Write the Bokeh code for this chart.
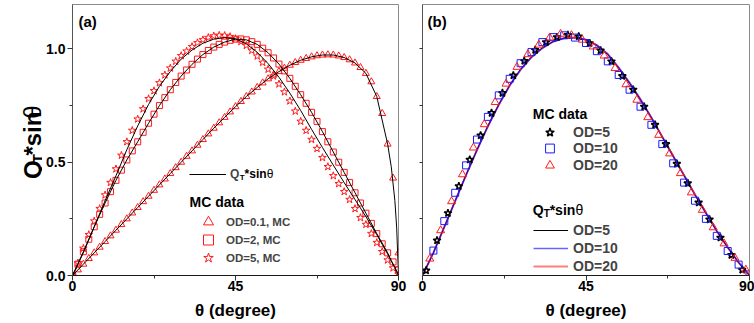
import math
import numpy as np
from bokeh.plotting import figure
from bokeh.layouts import row
from bokeh.models import FixedTicker, Label, Legend, LegendItem, Range1d, PrintfTickFormatter
from bokeh.embed import file_html
from bokeh.resources import INLINE

FONT = "Liberation Sans"

# ---------------- panel (a) data ----------------
theta_a = list(np.linspace(0, 90, 61))  # MC sampling angles (1.5 deg bins)
od01_mc = [0.0, 0.025, 0.05, 0.075, 0.10, 0.125, 0.15, 0.175, 0.20, 0.225, 0.25, 0.276,
           0.30, 0.326, 0.35, 0.376, 0.40, 0.426, 0.45, 0.476, 0.50, 0.526, 0.55, 0.575,
           0.60, 0.625, 0.65, 0.674, 0.698, 0.722, 0.745, 0.768, 0.79, 0.81, 0.83, 0.85,
           0.868, 0.885, 0.90, 0.915, 0.928, 0.94, 0.95, 0.958, 0.965, 0.97, 0.973, 0.974,
           0.973, 0.969, 0.962, 0.952, 0.938, 0.918, 0.892, 0.855, 0.79, 0.715, 0.58, 0.43, 0.10]
od2_mc = [0.0, 0.05, 0.105, 0.16, 0.215, 0.27, 0.32, 0.37, 0.42, 0.465, 0.51, 0.55,
          0.59, 0.632, 0.672, 0.712, 0.75, 0.785, 0.82, 0.852, 0.88, 0.907, 0.932, 0.955,
          0.975, 0.993, 1.008, 1.02, 1.03, 1.038, 1.043, 1.044, 1.04, 1.032, 1.02, 1.003,
          0.983, 0.96, 0.933, 0.903, 0.87, 0.835, 0.798, 0.76, 0.72, 0.68, 0.635, 0.59,
          0.545, 0.50, 0.455, 0.41, 0.365, 0.32, 0.275, 0.23, 0.185, 0.14, 0.10, 0.06, 0.025]
od5_mc = [0.0, 0.055, 0.12, 0.18, 0.24, 0.295, 0.355, 0.41, 0.47, 0.53, 0.59, 0.64,
          0.69, 0.735, 0.78, 0.815, 0.85, 0.885, 0.915, 0.945, 0.97, 0.99, 1.01, 1.027,
          1.04, 1.05, 1.057, 1.06, 1.059, 1.054, 1.045, 1.032, 1.015, 0.993, 0.968, 0.94,
          0.91, 0.88, 0.845, 0.81, 0.77, 0.725, 0.68, 0.64, 0.60, 0.56, 0.52, 0.48,
          0.44, 0.405, 0.37, 0.335, 0.295, 0.255, 0.225, 0.185, 0.145, 0.105, 0.068, 0.033, 0.005]

theta_line_a = [0, 3, 6, 9, 12, 15, 18, 21, 24, 27, 30, 33, 36, 39, 42, 45, 48, 51, 54, 57,
                60, 63, 66, 69, 72, 75, 78, 81, 84, 87, 88, 89, 89.5, 90]
od01_line = [0, 0.05, 0.10, 0.15, 0.20, 0.25, 0.30, 0.35, 0.40, 0.45, 0.50, 0.55, 0.60, 0.65,
             0.698, 0.745, 0.79, 0.83, 0.868, 0.90, 0.928, 0.95, 0.965, 0.973, 0.973, 0.962,
             0.938, 0.892, 0.79, 0.58, 0.48, 0.33, 0.21, 0.0]
od2_line = [0, 0.105, 0.215, 0.32, 0.42, 0.51, 0.59, 0.672, 0.75, 0.82, 0.88, 0.932, 0.975,
            1.008, 1.03, 1.043, 1.04, 1.02, 0.983, 0.933, 0.87, 0.798, 0.72, 0.635, 0.545,
            0.455, 0.365, 0.275, 0.185, 0.10, 0.065, 0.035, 0.018, 0.0]
od5_line = [0, 0.10, 0.215, 0.33, 0.44, 0.555, 0.66, 0.755, 0.835, 0.90, 0.955, 0.995, 1.025,
            1.043, 1.05, 1.045, 1.022, 0.985, 0.935, 0.875, 0.805, 0.728, 0.645, 0.565, 0.487,
            0.41, 0.335, 0.26, 0.18, 0.095, 0.065, 0.035, 0.018, 0.0]

# ---------------- panel (b) data ----------------
theta_b_od5 = [1, 4, 7, 10, 13, 16, 19, 22, 25, 28, 31, 34, 37, 40, 43, 46, 49, 52, 55, 58,
               61, 64, 67, 70, 73, 76, 79, 82, 85, 88]
od5_b_mc = [0.022, 0.155, 0.275, 0.394, 0.511, 0.618, 0.717, 0.805, 0.883, 0.947, 0.995, 1.03,
            1.052, 1.062, 1.055, 1.025, 0.993, 0.945, 0.88, 0.82, 0.745, 0.665, 0.58, 0.493,
            0.407, 0.322, 0.247, 0.167, 0.09, 0.025]
theta_b_od20 = [2, 5, 8, 11, 14, 17, 20, 23, 26, 29, 32, 35, 38, 41, 44, 47, 50, 53, 56, 59,
                62, 65, 68, 71, 74, 77, 80, 83, 86, 89]
od20_b_mc = [0.074, 0.199, 0.327, 0.446, 0.564, 0.667, 0.765, 0.846, 0.92, 0.976, 1.018, 1.05,
             1.066, 1.06, 1.04, 1.01, 0.97, 0.915, 0.843, 0.775, 0.698, 0.62, 0.538, 0.451,
             0.366, 0.289, 0.212, 0.141, 0.077, 0.025]
theta_b_od10 = [3, 6, 9, 12, 15, 18, 21, 24, 27, 30, 33, 36, 39, 42, 45, 48, 51, 54, 57, 60,
                63, 66, 69, 72, 75, 78, 81, 84, 87, 90]
od10_b_mc = [0.11, 0.24, 0.365, 0.486, 0.60, 0.70, 0.795, 0.868, 0.937, 0.986, 1.03, 1.052,
             1.06, 1.05, 1.026, 0.99, 0.945, 0.885, 0.82, 0.745, 0.665, 0.58, 0.495, 0.41,
             0.33, 0.25, 0.175, 0.108, 0.048, 0.005]

theta_line_b = [0, 3, 6, 9, 12, 15, 18, 21, 24, 27, 30, 33, 36, 39, 42, 45, 48, 51, 54, 57,
                60, 63, 66, 69, 72, 75, 78, 81, 84, 87, 90]
od5_b_line = [0, 0.10, 0.215, 0.33, 0.445, 0.555, 0.66, 0.755, 0.84, 0.91, 0.965, 1.005, 1.033,
              1.048, 1.05, 1.04, 1.015, 0.975, 0.915, 0.848, 0.775, 0.695, 0.61, 0.525, 0.44,
              0.355, 0.275, 0.195, 0.123, 0.057, 0.0]
od10_b_line = [0, 0.10, 0.213, 0.328, 0.443, 0.553, 0.658, 0.753, 0.838, 0.908, 0.963, 1.003,
               1.032, 1.047, 1.05, 1.041, 1.017, 0.978, 0.918, 0.851, 0.778, 0.698, 0.613, 0.528,
               0.443, 0.358, 0.277, 0.197, 0.125, 0.058, 0.0]
od20_b_line = [0, 0.101, 0.214, 0.329, 0.444, 0.554, 0.659, 0.754, 0.839, 0.909, 0.964, 1.004,
               1.033, 1.048, 1.05, 1.04, 1.016, 0.976, 0.916, 0.849, 0.776, 0.696, 0.611, 0.526,
               0.441, 0.356, 0.276, 0.196, 0.124, 0.057, 0.0]

x_ticks = [0, 45, 90]
x_minor = [22.5, 67.5]
y_ticks = [0, 0.5, 1.0]
y_minor = [0.25, 0.75]
y_minor_b = [0.25, 0.5, 0.75, 1.0]

Y_TOP = 1.196
RED = "#ff1a1a"


def style(p):
    p.grid.visible = False
    p.outline_line_color = "#8a8a8a"
    p.outline_line_width = 1
    p.background_fill_color = "white"
    p.border_fill_color = "white"
    for ax in p.axis:
        ax.axis_line_color = "#1a1a1a"
        ax.major_tick_line_color = "#333333"
        ax.minor_tick_line_color = "#333333"
        ax.major_tick_out = 5
        ax.major_tick_in = 0
        ax.minor_tick_out = 3
        ax.minor_tick_in = 0
        ax.major_label_text_font = FONT
        ax.major_label_text_font_style = "bold"
        ax.major_label_text_font_size = "14px"
        ax.major_label_text_color = "black"
    p.yaxis.axis_line_color = "#555555"
    p.yaxis.major_label_standoff = 2
    p.xaxis.major_label_standoff = 0
    p.xaxis.ticker = FixedTicker(ticks=x_ticks, minor_ticks=x_minor)
    p.xaxis.axis_label = "θ (degree)"
    p.xaxis.axis_label_text_font = FONT
    p.xaxis.axis_label_text_font_style = "bold"
    p.xaxis.axis_label_text_font_size = "17px"
    p.xaxis.axis_label_text_color = "black"
    p.xaxis.axis_label_standoff = 7


def lab(p, x, y, text, size, bold=True, align="left", angle=0.0, baseline="middle"):
    p.add_layout(Label(x=x, y=y, text=text, text_font=FONT, text_font_size=size,
                       text_font_style="bold" if bold else "normal", text_align=align,
                       text_baseline=baseline, angle=angle, text_color="black"))


def item_legend(p, text, rend, loc, gw, gh, standoff, size):
    p.add_layout(Legend(items=[LegendItem(label=text, renderers=[rend])], location=loc,
                        glyph_width=gw, glyph_height=gh, label_height=10,
                        label_standoff=standoff, spacing=0, padding=0, margin=0,
                        border_line_color=None, background_fill_alpha=0,
                        label_text_font=FONT, label_text_font_style="bold",
                        label_text_font_size=size))


# ---------------- y-axis title strip ----------------
yl = figure(width=42, height=323, x_range=Range1d(0, 42), y_range=Range1d(323, 0),
            x_axis_type=None, y_axis_type=None, min_border=0, output_backend="svg",
            toolbar_location=None, title=None)
yl.outline_line_color = None
yl.background_fill_color = "white"
yl.border_fill_color = "white"
ang = math.pi / 2
lab(yl, 32, 208, "Q", "24px", angle=ang, baseline="alphabetic")
lab(yl, 37, 189.3, "T", "15px", angle=ang, baseline="alphabetic")
lab(yl, 32, 180.1, "*sin", "24px", angle=ang, baseline="alphabetic")
lab(yl, 32, 136.1, "θ", "24px", bold=False, angle=ang, baseline="alphabetic")

# ---------------- figure (a) ----------------
p1 = figure(width=368, height=323, x_range=Range1d(0, 90), y_range=Range1d(0, Y_TOP),
            output_backend="svg", toolbar_location=None, title=None,
            min_border_left=30, min_border_right=12, min_border_top=4, min_border_bottom=48)
style(p1)
p1.yaxis.ticker = FixedTicker(ticks=y_ticks, minor_ticks=y_minor)
p1.yaxis.formatter = PrintfTickFormatter(format="%.1f")

r_tri = p1.scatter(theta_a, od01_mc, marker="triangle", size=7, fill_color=None,
                   line_color=RED, line_width=1)
r_sq = p1.scatter(theta_a, od2_mc, marker="square", size=6, fill_color=None,
                  line_color=RED, line_width=1)
r_star = p1.scatter(theta_a, od5_mc, marker="star", size=8, fill_color=None,
                    line_color=RED, line_width=1)
r_l1 = p1.line(theta_line_a, od01_line, line_color="black", line_width=1)
p1.line(theta_line_a, od2_line, line_color="black", line_width=1)
p1.line(theta_line_a, od5_line, line_color="black", line_width=1)

item_legend(p1, "Q", r_l1, (117, 94), 37, 14, 4, "12px")
lab(p1, 46.2, 0.432, "T", "8px")
lab(p1, 47.5, 0.449, "*sin", "12px")
lab(p1, 53.6, 0.449, "θ", "12px", bold=False)

lab(p1, 32.3, 0.3235, "MC data", "14px")
item_legend(p1, "OD=0.1, MC", r_tri, (118, 41), 36, 25, 0, "11.5px")
item_legend(p1, "OD=2, MC", r_sq, (118, 23), 36, 25, 0, "11.5px")
item_legend(p1, "OD=5, MC", r_star, (118, 5), 36, 25, 0, "11.5px")

lab(p1, 1.66, 1.121, "(a)", "15px")

# ---------------- figure (b) ----------------
p2 = figure(width=344, height=323, x_range=Range1d(0, 90), y_range=Range1d(0, Y_TOP),
            output_backend="svg", toolbar_location=None, title=None,
            min_border_left=12, min_border_right=5, min_border_top=4, min_border_bottom=48)
style(p2)
p2.yaxis.ticker = FixedTicker(ticks=[], minor_ticks=y_minor_b)

rb5 = p2.line(theta_line_b, od5_b_line, line_color="black", line_width=1)
rb20 = p2.line(theta_line_b, od20_b_line, line_color="#ff0000", line_width=2, line_alpha=0.5)
rb10 = p2.line(theta_line_b, od10_b_line, line_color="#0000ff", line_width=1.6, line_alpha=0.6)

s5 = p2.scatter(theta_b_od5, od5_b_mc, marker="star", size=8, fill_color=None,
                line_color="black", line_width=1.5)
s10 = p2.scatter(theta_b_od10, od10_b_mc, marker="square", size=7, fill_color=None,
                 line_color="#1a1aff", line_width=1)
s20 = p2.scatter(theta_b_od20, od20_b_mc, marker="triangle", size=8, fill_color=None,
                 line_color=RED, line_width=1)

lab(p2, 30.36, 0.7136, "MC data", "14px")
item_legend(p2, "OD=5", s5, (110, 132), 35, 22, 6, "14px")
item_legend(p2, "OD=10", s10, (110, 116), 35, 22, 6, "14px")
item_legend(p2, "OD=20", s20, (110, 99), 35, 22, 6, "14px")

p2.add_layout(Legend(items=[LegendItem(label="OD=5", renderers=[rb5]),
                            LegendItem(label="OD=10", renderers=[rb10]),
                            LegendItem(label="OD=20", renderers=[rb20])],
                     location=(111, 0),
                     glyph_width=35, glyph_height=18, label_height=18, label_standoff=5,
                     spacing=0, padding=0, margin=0, border_line_color=None,
                     background_fill_alpha=0,
                     label_text_font=FONT, label_text_font_style="bold",
                     label_text_font_size="14px"))

lab(p2, 30.36, 0.287, "Q", "14px")
lab(p2, 33.35, 0.2736, "T", "10px")
lab(p2, 35.0, 0.287, "*sin", "14px")
lab(p2, 42.1, 0.287, "θ", "14px", bold=False)

lab(p2, 1.4, 1.121, "(b)", "15px")

layout = row(yl, p1, p2)
open("out.html", "w").write(file_html(layout, INLINE))
